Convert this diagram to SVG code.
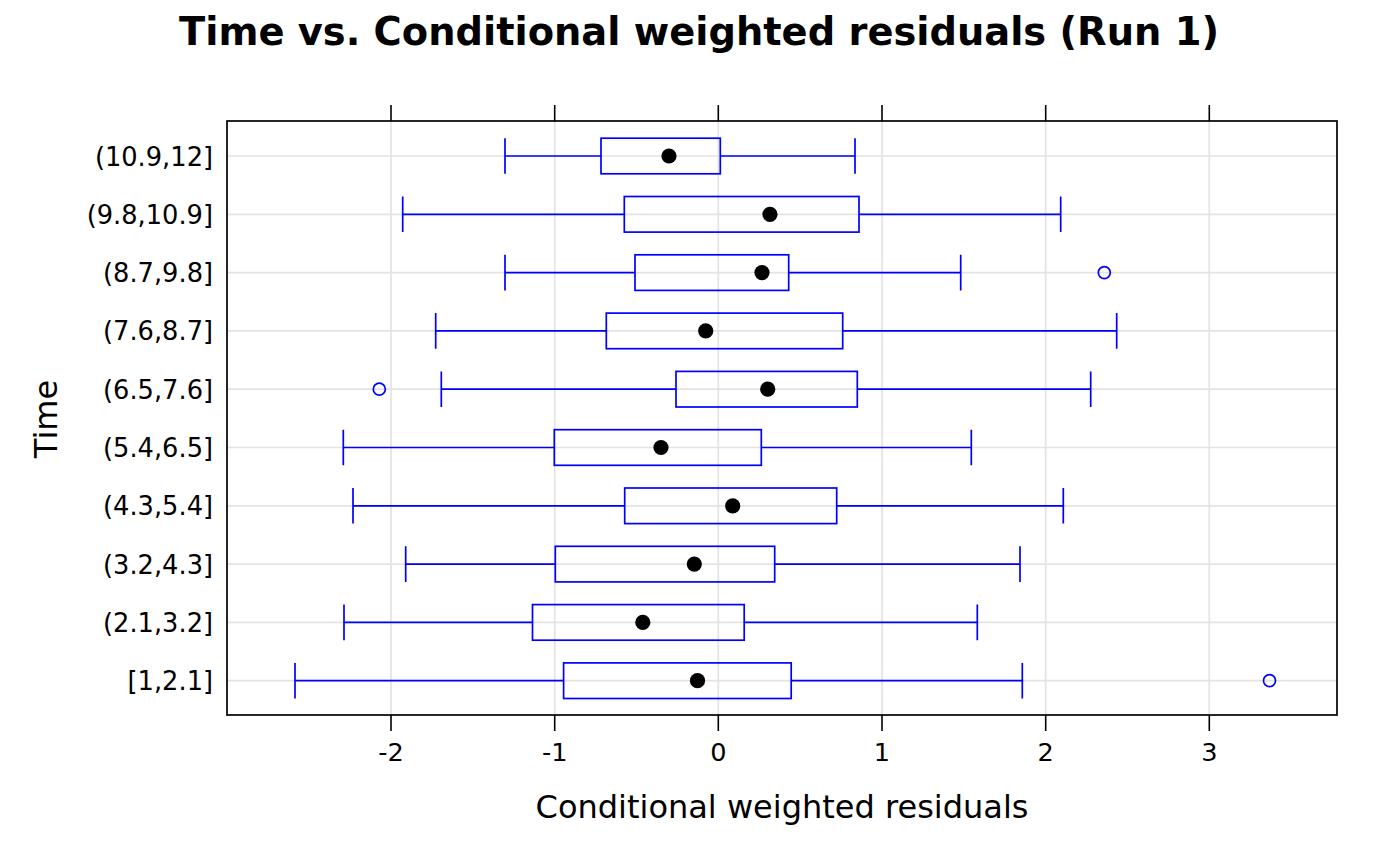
<svg xmlns="http://www.w3.org/2000/svg" width="1400" height="866" viewBox="0 0 1400 866">
<style>
text{font-family:"DejaVu Sans","Noto Sans",sans-serif;fill:#000}
.title{font-size:38.4px;font-weight:bold;text-anchor:middle}
.lab{font-size:32px;text-anchor:middle}
.xt{font-size:25.6px;text-anchor:middle}
.yt{font-size:25.7px;text-anchor:end}
.grid line{stroke:#e3e3e3;stroke-width:1.7}
.tick line{stroke:#000;stroke-width:1.6}
.frame{fill:none;stroke:#000;stroke-width:1.7}
.bx rect,.bx path{fill:none;stroke:#0000ff;stroke-width:1.7}
.med{fill:#000}
.out{fill:none;stroke:#0000ff;stroke-width:1.7}
</style>
<rect width="1400" height="866" fill="#fff"/>
<text class="title" x="699" y="45">Time vs. Conditional weighted residuals (Run 1)</text>
<g id="grid" class="grid">
<line x1="391" y1="121" x2="391" y2="715"/>
<line x1="554.7" y1="121" x2="554.7" y2="715"/>
<line x1="718.3" y1="121" x2="718.3" y2="715"/>
<line x1="882" y1="121" x2="882" y2="715"/>
<line x1="1045.7" y1="121" x2="1045.7" y2="715"/>
<line x1="1209.3" y1="121" x2="1209.3" y2="715"/>
<line x1="227" y1="156" x2="1337" y2="156"/>
<line x1="227" y1="214.3" x2="1337" y2="214.3"/>
<line x1="227" y1="272.6" x2="1337" y2="272.6"/>
<line x1="227" y1="330.9" x2="1337" y2="330.9"/>
<line x1="227" y1="389.2" x2="1337" y2="389.2"/>
<line x1="227" y1="447.5" x2="1337" y2="447.5"/>
<line x1="227" y1="505.8" x2="1337" y2="505.8"/>
<line x1="227" y1="564.1" x2="1337" y2="564.1"/>
<line x1="227" y1="622.4" x2="1337" y2="622.4"/>
<line x1="227" y1="680.7" x2="1337" y2="680.7"/>
</g>
<g id="axes">
<rect class="frame" x="227" y="121" width="1110" height="594"/>
<g class="tick">
<line x1="391" y1="105" x2="391" y2="121"/>
<line x1="554.7" y1="105" x2="554.7" y2="121"/>
<line x1="718.3" y1="105" x2="718.3" y2="121"/>
<line x1="882" y1="105" x2="882" y2="121"/>
<line x1="1045.7" y1="105" x2="1045.7" y2="121"/>
<line x1="1209.3" y1="105" x2="1209.3" y2="121"/>
<line x1="391" y1="715" x2="391" y2="731"/>
<line x1="554.7" y1="715" x2="554.7" y2="731"/>
<line x1="718.3" y1="715" x2="718.3" y2="731"/>
<line x1="882" y1="715" x2="882" y2="731"/>
<line x1="1045.7" y1="715" x2="1045.7" y2="731"/>
<line x1="1209.3" y1="715" x2="1209.3" y2="731"/>
</g>
<text class="xt" x="391" y="761">-2</text>
<text class="xt" x="554.7" y="761">-1</text>
<text class="xt" x="718.3" y="761">0</text>
<text class="xt" x="882" y="761">1</text>
<text class="xt" x="1045.7" y="761">2</text>
<text class="xt" x="1209.3" y="761">3</text>
<text class="yt" x="213" y="165.5">(10.9,12]</text>
<text class="yt" x="213" y="223.8">(9.8,10.9]</text>
<text class="yt" x="213" y="282.1">(8.7,9.8]</text>
<text class="yt" x="213" y="340.4">(7.6,8.7]</text>
<text class="yt" x="213" y="398.7">(6.5,7.6]</text>
<text class="yt" x="213" y="457">(5.4,6.5]</text>
<text class="yt" x="213" y="515.3">(4.3,5.4]</text>
<text class="yt" x="213" y="573.6">(3.2,4.3]</text>
<text class="yt" x="213" y="631.9">(2.1,3.2]</text>
<text class="yt" x="213" y="690.2">[1,2.1]</text>
<text class="lab" x="782" y="818">Conditional weighted residuals</text>
<text class="lab" transform="translate(57,419) rotate(-90)">Time</text>
</g>
<g id="connectors"></g>
<g id="box-10.9-12" class="bx">
<path d="M505 156H601M720.3 156H855M505 138.2V173.8M855 138.2V173.8"/>
<rect x="601" y="138.2" width="119.3" height="35.6"/>
<circle class="med" cx="669" cy="156" r="7.6"/>
</g>
<g id="box-9.8-10.9" class="bx">
<path d="M402.7 214.3H624.3M859 214.3H1060.7M402.7 196.5V232.1M1060.7 196.5V232.1"/>
<rect x="624.3" y="196.5" width="234.7" height="35.6"/>
<circle class="med" cx="770" cy="214.3" r="7.6"/>
</g>
<g id="box-8.7-9.8" class="bx">
<path d="M505 272.6H635M788.7 272.6H960.7M505 254.8V290.4M960.7 254.8V290.4"/>
<rect x="635" y="254.8" width="153.7" height="35.6"/>
<circle class="med" cx="762" cy="272.6" r="7.6"/>
<circle class="out" cx="1104.3" cy="272.6" r="6"/>
</g>
<g id="box-7.6-8.7" class="bx">
<path d="M435.7 330.9H606.3M842.7 330.9H1116.7M435.7 313.1V348.7M1116.7 313.1V348.7"/>
<rect x="606.3" y="313.1" width="236.4" height="35.6"/>
<circle class="med" cx="705.7" cy="330.9" r="7.6"/>
</g>
<g id="box-6.5-7.6" class="bx">
<path d="M441.3 389.2H676M857.3 389.2H1090.7M441.3 371.4V407M1090.7 371.4V407"/>
<rect x="676" y="371.4" width="181.3" height="35.6"/>
<circle class="med" cx="767.7" cy="389.2" r="7.6"/>
<circle class="out" cx="379.3" cy="389.2" r="6"/>
</g>
<g id="box-5.4-6.5" class="bx">
<path d="M343.3 447.5H554.3M761.3 447.5H971.3M343.3 429.7V465.3M971.3 429.7V465.3"/>
<rect x="554.3" y="429.7" width="207" height="35.6"/>
<circle class="med" cx="661" cy="447.5" r="7.6"/>
</g>
<g id="box-4.3-5.4" class="bx">
<path d="M353 505.8H624.7M836.7 505.8H1063.3M353 488V523.6M1063.3 488V523.6"/>
<rect x="624.7" y="488" width="212" height="35.6"/>
<circle class="med" cx="732.7" cy="505.8" r="7.6"/>
</g>
<g id="box-3.2-4.3" class="bx">
<path d="M405.7 564.1H555.3M774.7 564.1H1020M405.7 546.3V581.9M1020 546.3V581.9"/>
<rect x="555.3" y="546.3" width="219.4" height="35.6"/>
<circle class="med" cx="694.3" cy="564.1" r="7.6"/>
</g>
<g id="box-2.1-3.2" class="bx">
<path d="M344 622.4H532.5M744.2 622.4H977.3M344 604.6V640.2M977.3 604.6V640.2"/>
<rect x="532.5" y="604.6" width="211.7" height="35.6"/>
<circle class="med" cx="642.8" cy="622.4" r="7.6"/>
</g>
<g id="box-1-2.1" class="bx">
<path d="M295 680.7H563.6M791.2 680.7H1022.3M295 662.9V698.5M1022.3 662.9V698.5"/>
<rect x="563.6" y="662.9" width="227.6" height="35.6"/>
<circle class="med" cx="697.5" cy="680.7" r="7.6"/>
<circle class="out" cx="1269.5" cy="680.7" r="6"/>
</g>
</svg>
